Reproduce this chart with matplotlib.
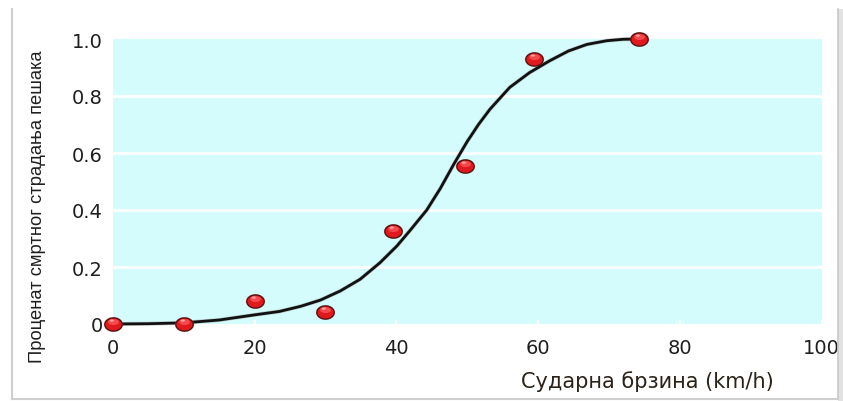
import numpy as np
import matplotlib
matplotlib.use("Agg")
import matplotlib.pyplot as plt
from matplotlib.path import Path
from matplotlib.lines import Line2D

plt.rcParams['font.family'] = ['DejaVu Sans']

# Observed pedestrian fatality share by impact speed
speed = [0, 10, 20, 30, 39.5, 49.7, 59.4, 74.2]
fatality = [0.0, 0.0, 0.082, 0.041, 0.327, 0.555, 0.93, 1.0]

# Fitted risk curve, sampled along its length
curve_speed = [0, 5, 10, 15, 20, 23.5, 26.5, 29.3, 32.1, 34.9, 37.7, 40.1, 42.0,
               44.3, 46.2, 48.1, 50.0, 51.6, 53.2, 56.0, 58.8, 61.6, 64.3, 66.9,
               69.7, 72.0, 74.2]
curve_value = [0.0, 0.001, 0.004, 0.014, 0.032, 0.044, 0.062, 0.084, 0.116, 0.157,
               0.215, 0.274, 0.33, 0.40, 0.475, 0.56, 0.64, 0.70, 0.753, 0.83,
               0.882, 0.923, 0.958, 0.981, 0.994, 0.999, 1.0]

x_ticks = [0, 20, 40, 60, 80, 100]
y_ticks = [0, 0.2, 0.4, 0.6, 0.8, 1.0]
y_tick_labels = ['0', '0.2', '0.4', '0.6', '0.8', '1.0']

x_label = 'Сударна брзина (km/h)'
y_label = 'Проценат смртног страдања пешака'

W, H = 843, 402
fig = plt.figure(figsize=(W / 100, H / 100), dpi=100)
fig.patch.set_facecolor('white')

ax = fig.add_axes([112.8 / W, (H - 325) / H, (821.5 - 112.8) / W, 285 / H])
ax.set_facecolor('#d4fcfc')
ax.set_xlim(0, 100)
ax.set_ylim(0, 1.0)
for s in ax.spines.values():
    s.set_visible(False)

ax.set_yticks(y_ticks)
ax.set_yticklabels(y_tick_labels)
ax.set_xticks(x_ticks)
ax.tick_params(axis='y', length=0, pad=7, labelsize=14, labelcolor='#1f1f1f')
ax.tick_params(axis='x', direction='in', length=3, width=1.5, color='white',
               pad=10, labelsize=14, labelcolor='#1f1f1f')
for yv in y_ticks[1:-1]:
    ax.axhline(yv, color='white', lw=2, zorder=1)

# fitted curve with a faint shadow
ax.plot(curve_speed, curve_value, color='#9a9a9a', lw=2.9, alpha=0.5,
        solid_capstyle='round', solid_joinstyle='round', zorder=3, clip_on=False)
ax.plot(curve_speed, curve_value, color='#111111', lw=2.0,
        solid_capstyle='round', solid_joinstyle='round', zorder=4, clip_on=False)

# glossy elliptical markers
t = np.linspace(0, 2 * np.pi, 60)
ell = Path(np.column_stack([np.cos(t), 0.76 * np.sin(t)]), closed=True)
ms = 12.5
ax.plot(speed, fatality, ls='none', marker=ell, markersize=ms + 1.5,
        markerfacecolor='#8a8a8a', markeredgewidth=0, alpha=0.35,
        zorder=5, clip_on=False)
ax.plot(speed, fatality, ls='none', marker=ell, markersize=ms,
        markerfacecolor='#e0191f', markeredgecolor='#5e1010', markeredgewidth=1.0,
        zorder=5, clip_on=False)
# upper highlight
hv = np.column_stack([0.62 * np.cos(t), 0.28 + 0.34 * np.sin(t)])
m = np.max(np.abs(hv))
ax.plot(speed, fatality, ls='none', marker=Path(hv, closed=True), markersize=ms * m,
        markerfacecolor='#ff6060', markeredgewidth=0, alpha=0.7,
        zorder=6, clip_on=False)
sv = np.column_stack([0.25 * np.cos(t) - 0.2, 0.45 + 0.13 * np.sin(t)])
m2 = np.max(np.abs(sv))
ax.plot(speed, fatality, ls='none', marker=Path(sv, closed=True), markersize=ms * m2,
        markerfacecolor='#ffc8c8', markeredgewidth=0, alpha=0.7,
        zorder=7, clip_on=False)

fig.text(38 / W, (H - 207) / H, y_label, rotation=90, ha='center', va='center',
         fontsize=13.2, color='#1f1f1f', family=['Liberation Sans', 'DejaVu Sans'])
fig.text(647 / W, (H - 382) / H, x_label, ha='center', va='center',
         fontsize=15, color='#2b2218')

# picture frame
frame = '#cfcfcf'
fig.add_artist(Line2D([12 / W, 12 / W], [(H - 10) / H, (H - 400) / H],
                      transform=fig.transFigure, color=frame, lw=1.5))
fig.add_artist(Line2D([12 / W, 838 / W], [(H - 400) / H, (H - 400) / H],
                      transform=fig.transFigure, color=frame, lw=1.5))
fig.add_artist(plt.Rectangle((838 / W, 0), 5 / W, (H - 10) / H,
                             transform=fig.transFigure, color='#e2e2e2', lw=0, zorder=10))
fig.add_artist(Line2D([838 / W, 838 / W], [(H - 10) / H, (H - 400) / H],
                      transform=fig.transFigure, color='#c8c8c8', lw=1.2, zorder=11))

fig.savefig('out.png', dpi=100)
